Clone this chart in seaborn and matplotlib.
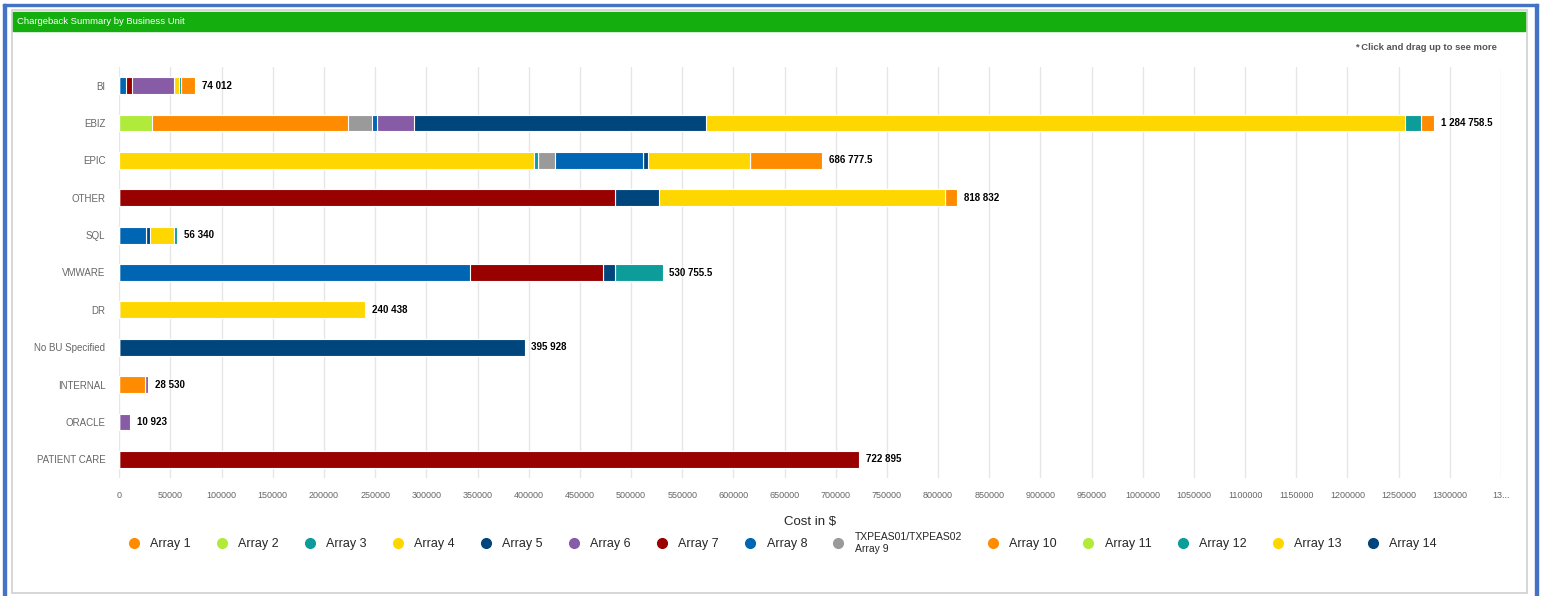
import numpy as np
import pandas as pd
import matplotlib
matplotlib.use('Agg')
import matplotlib.pyplot as plt
from matplotlib.patches import Rectangle
from matplotlib.lines import Line2D
import seaborn as sns

# categories (top to bottom)
units = ['BI', 'EBIZ', 'EPIC', 'OTHER', 'SQL', 'VMWARE', 'DR',
         'No BU Specified', 'INTERNAL', 'ORACLE', 'PATIENT CARE']

# series values per business unit
array1 = [13412, 13358.5, 70277.5, 12232, 0, 0, 0, 0, 0, 0, 0]
array2 = [0, 0, 0, 0, 0, 0, 0, 0, 0, 0, 0]
array3 = [2300, 15400, 0, 0, 3140, 46555.5, 0, 0, 0, 0, 0]
array4 = [5300, 682800, 99700, 279000, 23500, 0, 240438, 0, 0, 0, 0]
array5 = [0, 285000, 4800, 43300, 3400, 11700, 0, 395928, 0, 0, 0]
array6 = [40500, 36700, 0, 0, 0, 0, 0, 0, 3030, 10923, 0]
array7 = [6200, 0, 0, 484300, 0, 129500, 0, 0, 0, 0, 722895]
array8 = [6300, 4300, 86300, 0, 26300, 343000, 0, 0, 0, 0, 0]
array9 = [0, 23500, 16900, 0, 0, 0, 0, 0, 0, 0, 0]
array10 = [0, 192100, 0, 0, 0, 0, 0, 0, 25500, 0, 0]
array11 = [0, 31600, 0, 0, 0, 0, 0, 0, 0, 0, 0]
array12 = [0, 0, 3900, 0, 0, 0, 0, 0, 0, 0, 0]
array13 = [0, 0, 404900, 0, 0, 0, 0, 0, 0, 0, 0]
array14 = [0, 0, 0, 0, 0, 0, 0, 0, 0, 0, 0]

series_names = ['Array 1', 'Array 2', 'Array 3', 'Array 4', 'Array 5', 'Array 6', 'Array 7',
                'Array 8', 'TXPEAS01/TXPEAS02\nArray 9', 'Array 10', 'Array 11', 'Array 12',
                'Array 13', 'Array 14']
series_vals = [array1, array2, array3, array4, array5, array6, array7,
               array8, array9, array10, array11, array12, array13, array14]
colors = ['#FF8C00', '#B0EB3C', '#0C9C9A', '#FFD700', '#00467C', '#875BA6', '#990000',
          '#0066B3', '#9A9A9A', '#FF8C00', '#B0EB3C', '#0C9C9A', '#FFD700', '#00467C']

xticks = list(range(0, 1350001, 50000))
xticklabels = [str(t) for t in xticks[:-1]] + ['13...']

df = pd.DataFrame(dict(zip(series_names, series_vals)), index=units)
# stack order: last series on the left, first series on the right
cum = df[series_names[::-1]].cumsum(axis=1)
totals = df.sum(axis=1)

sns.set_style("white")
plt.rcParams['font.family'] = ['Liberation Sans', 'DejaVu Sans']

fig = plt.figure(figsize=(15.41, 5.96), dpi=100)
W, H = 1541, 596

# frame / panel / header
fig.patches.append(Rectangle((3 / W, 0), 2.5 / W, 1 - 3.5 / H, transform=fig.transFigure,
                             color='#4472C4', zorder=-3))
fig.patches.append(Rectangle((3 / W, 1 - 6 / H), (1538 - 3) / W, 2.5 / H, transform=fig.transFigure,
                             color='#4472C4', zorder=-3))
fig.patches.append(Rectangle((1535 / W, 0), 3 / W, 1 - 3.5 / H, transform=fig.transFigure,
                             color='#4472C4', zorder=-3))
fig.patches.append(Rectangle((12 / W, 1 - 593 / H), (1527 - 12) / W, (593 - 10) / H,
                             transform=fig.transFigure, facecolor='white', edgecolor='#d0d0d0',
                             linewidth=1.2, zorder=-2))
fig.patches.append(Rectangle((13 / W, 1 - 31 / H), (1525 - 13) / W, 19 / H,
                             transform=fig.transFigure, color='#14AF0E', zorder=-1))
fig.text(17 / W, 1 - 21.5 / H, 'Chargeback Summary by Business Unit', color='white',
         fontsize=6.8, va='center', ha='left')
fig.text(1497 / W, 1 - 48 / H, '* Click and drag up to see more', color='#555555',
         fontsize=6.8, fontweight='bold', va='center', ha='right')

ax = fig.add_axes([119.3 / W, 1 - 478 / H, (1501 - 119.3) / W, (478 - 67) / H])
ax.set_facecolor('none')
ax.set_zorder(2)

# draw cumulative bars, widest first
for name, color in zip(series_names, colors):
    sns.barplot(x=cum[name].values, y=units, orient='h', color=color, saturation=1,
                width=0.45, edgecolor='white', linewidth=0.8, ax=ax, zorder=3)

for i, unit in enumerate(units):
    v = totals[unit]
    s = f"{v:,.1f}" if v % 1 else f"{v:,.0f}"
    ax.annotate(s.replace(',', ' '), xy=(v, i), xytext=(5, 0), textcoords='offset points',
                va='center', ha='left', fontsize=7, fontweight='bold', color='black')

ax.set_xlim(0, 1350000)
ax.set_xticks(xticks)
ax.set_xticklabels(xticklabels, fontsize=6.5, color='#666666')
ax.tick_params(axis='x', length=0, pad=9)
ax.tick_params(axis='y', length=0, pad=10, labelsize=7, labelcolor='#666666')
ax.grid(axis='x', color='#e6e6e6', linewidth=1, zorder=0)
ax.set_axisbelow(True)
for sp in ax.spines.values():
    sp.set_visible(False)
ax.set_xlabel('Cost in $', fontsize=9.5, labelpad=12)
ax.set_ylabel('')

handles = [Line2D([], [], marker='o', linestyle='', markersize=7, markerfacecolor=c,
                  markeredgecolor=c) for c in colors]
leg = fig.legend(handles, series_names, loc='upper center', bbox_to_anchor=(782 / W, 1 - 521 / H),
                 ncol=14, frameon=False, fontsize=9, handletextpad=0.8, columnspacing=2.0,
                 handlelength=1)
leg.get_texts()[8].set_fontsize(7.5)

fig.savefig('out.png', dpi=100)
